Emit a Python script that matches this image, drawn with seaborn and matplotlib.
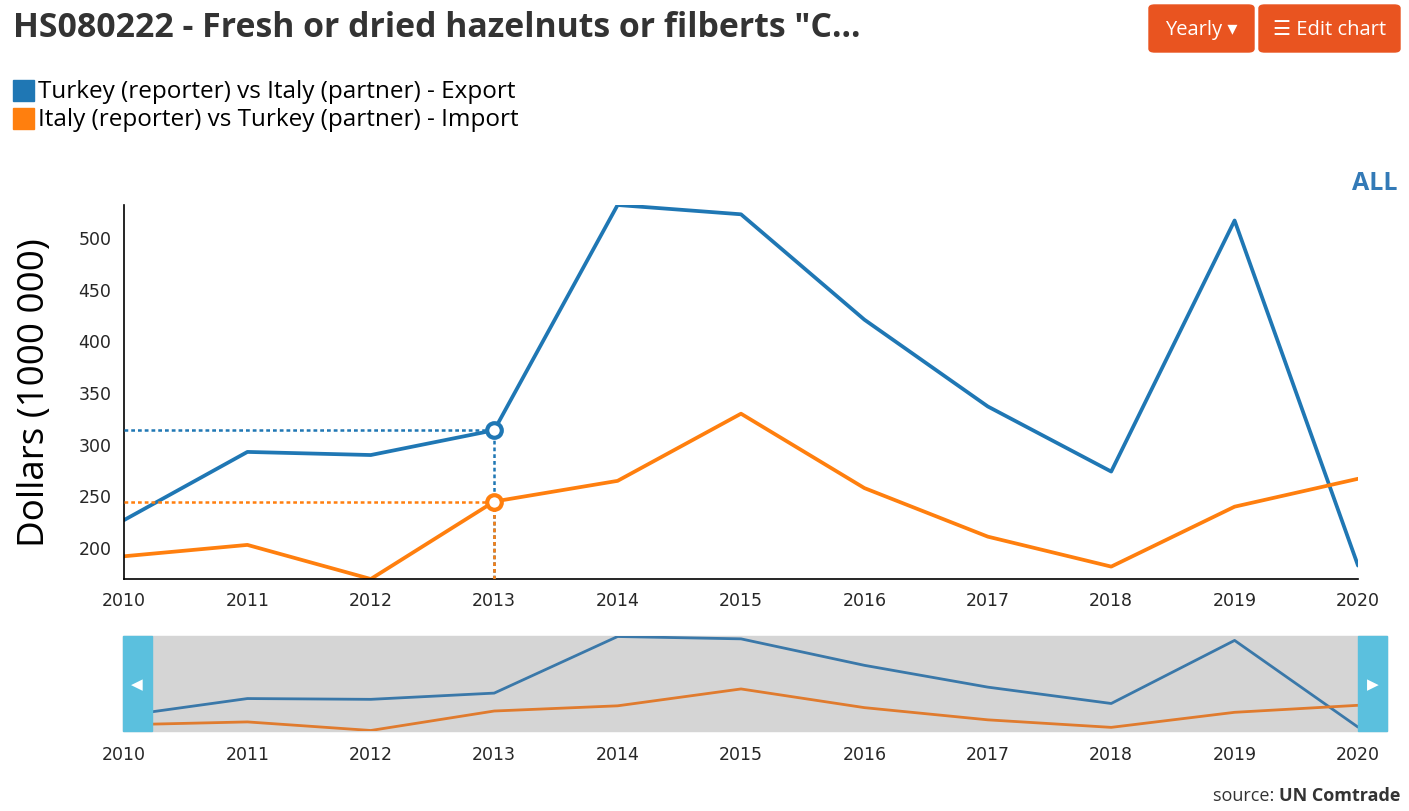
import pandas as pd
import seaborn as sns
import matplotlib.pyplot as plt
from matplotlib.patches import FancyBboxPatch, Rectangle

years = list(range(2010, 2021))
export_vals = [226, 292, 289, 313, 531, 522, 420, 336, 273, 516, 182]
import_vals = [191, 202, 169, 244, 264, 329, 257, 210, 181, 239, 266]
series_names = ["Turkey (reporter) vs Italy (partner) - Export",
                "Italy (reporter) vs Turkey (partner) - Import"]
y_ticks = [200, 250, 300, 350, 400, 450, 500]
hover_year = 2013

df = pd.DataFrame({
    "year": years * 2,
    "value": export_vals + import_vals,
    "series": [series_names[0]] * len(years) + [series_names[1]] * len(years),
})

BLUE = "#1f77b4"
ORANGE = "#ff7f0e"
W, H = 1409, 812

sns.set_style("white")
plt.rcParams["font.family"] = ["DejaVu Sans"]
UI = ["Open Sans", "DejaVu Sans"]


def fx(x):
    return x / W


def fy(y):
    return 1 - y / H


fig = plt.figure(figsize=(W / 100, H / 100), dpi=100)

# main chart
ax = fig.add_axes([fx(124), fy(580), fx(1358) - fx(124), fy(206) - fy(580)])
sns.lineplot(data=df, x="year", y="value", hue="series", palette=[BLUE, ORANGE],
             linewidth=2.7, ax=ax, legend=False)
ymin = min(export_vals + import_vals)
ymax = max(export_vals + import_vals)
ax.set_xlim(years[0], years[-1])
ax.set_ylim(ymin, ymax)
ax.set_xticks(years)
ax.set_yticks(y_ticks)
ax.tick_params(axis="both", direction="out", length=6, width=1, labelsize=12.5,
               color="black", pad=3)
ax.set_xlabel("")
ax.set_ylabel("")
for s in ["top", "right"]:
    ax.spines[s].set_visible(False)
for s in ["left", "bottom"]:
    ax.spines[s].set_color("black")
    ax.spines[s].set_linewidth(1.2)

# hover markers at 2013
hi = years.index(hover_year)
for vals, col in [(export_vals, BLUE), (import_vals, ORANGE)]:
    v = vals[hi]
    ax.plot([years[0], hover_year], [v, v], color=col, lw=1.8,
            linestyle=(0, (1.5, 1.2)), zorder=4)
    ax.plot([hover_year, hover_year], [ymin, v], color=col, lw=1.8,
            linestyle=(0, (1.5, 1.2)), zorder=4)
    ax.scatter([hover_year], [v], s=110, facecolor="white", edgecolor=col,
               linewidth=3, zorder=6, clip_on=False)

# navigator
ax2 = fig.add_axes([fx(124), fy(732), fx(1358) - fx(124), fy(637) - fy(732)])
step = (1358 - 124) / 10
ax2.add_patch(Rectangle((years[0] - 1 / step, 0), 10 + 30 / step, 1,
                        transform=ax2.get_xaxis_transform(), color="#d5d5d5",
                        clip_on=False, zorder=0))
sns.lineplot(data=df, x="year", y="value", hue="series",
             palette=["#3a78a9", "#e07b2e"], linewidth=2, ax=ax2, legend=False)
ax2.set_xlim(years[0], years[-1])
ax2.set_ylim(ymin - 2, ymax + 2)
for x0 in [years[0] - 1 / step, years[-1]]:
    ax2.add_patch(Rectangle((x0, 0), 29 / step, 1.0,
                            transform=ax2.get_xaxis_transform(), color="#5bc0de",
                            clip_on=False, zorder=5))
ax2.text(years[0] + 13 / step, 0.5, "\u25c0", transform=ax2.get_xaxis_transform(),
         color="white", fontsize=11, ha="center", va="center", zorder=6)
ax2.text(years[-1] + 15 / step, 0.5, "\u25b6", transform=ax2.get_xaxis_transform(),
         color="white", fontsize=11, ha="center", va="center", zorder=6)
ax2.set_xticks(years)
ax2.set_yticks([])
ax2.tick_params(axis="x", direction="out", length=7, width=1.5, labelsize=12.5,
                color="black", pad=3)
ax2.set_xlabel("")
ax2.set_ylabel("")
for s in ax2.spines.values():
    s.set_visible(False)

# title, legend and other texts
fig.text(fx(13), fy(28), 'HS080222 - Fresh or dried hazelnuts or filberts "C...',
         fontsize=24.4, fontweight="bold", color="#333333", family=UI,
         ha="left", va="center")
for i, (name, col) in enumerate(zip(series_names, [BLUE, ORANGE])):
    yc = 92 + 28 * i
    fig.add_artist(Rectangle((fx(13), fy(yc + 10)), fx(21), fy(0) - fy(21),
                             transform=fig.transFigure, color=col))
    fig.text(fx(38), fy(yc), name, fontsize=17.5, color="black", family=UI,
             ha="left", va="center")

fig.text(fx(35), fy(393), "Dollars (1000 000)", rotation=90, fontsize=26.5,
         ha="center", va="center", color="black", family=UI)
fig.text(fx(1397), fy(184), "ALL", fontsize=18, fontweight="bold", color="#337ab7",
         family=UI, ha="right", va="center")

for x0, x1, label in [(1149, 1254, "Yearly \u25be"), (1259, 1400, "\u2630 Edit chart")]:
    fig.add_artist(FancyBboxPatch((fx(x0), fy(53)), fx(x1 - x0), fy(0) - fy(47),
                                  boxstyle="round,pad=0,rounding_size=0.004",
                                  transform=fig.transFigure, color="#e95420"))
    fig.text(fx((x0 + x1) / 2), fy(30), label, fontsize=14.5, color="white",
             family=UI, ha="center", va="center")

src_bold = fig.text(fx(1400), fy(796), "UN Comtrade", fontsize=13, color="#333333",
                    fontweight="bold", family=UI, ha="right", va="center")
bb = src_bold.get_window_extent(renderer=fig.canvas.get_renderer())
fig.text(bb.x0 / W, fy(796), "source: ", fontsize=13, color="#333333", family=UI,
         ha="right", va="center")

fig.savefig("out.png", dpi=100)
